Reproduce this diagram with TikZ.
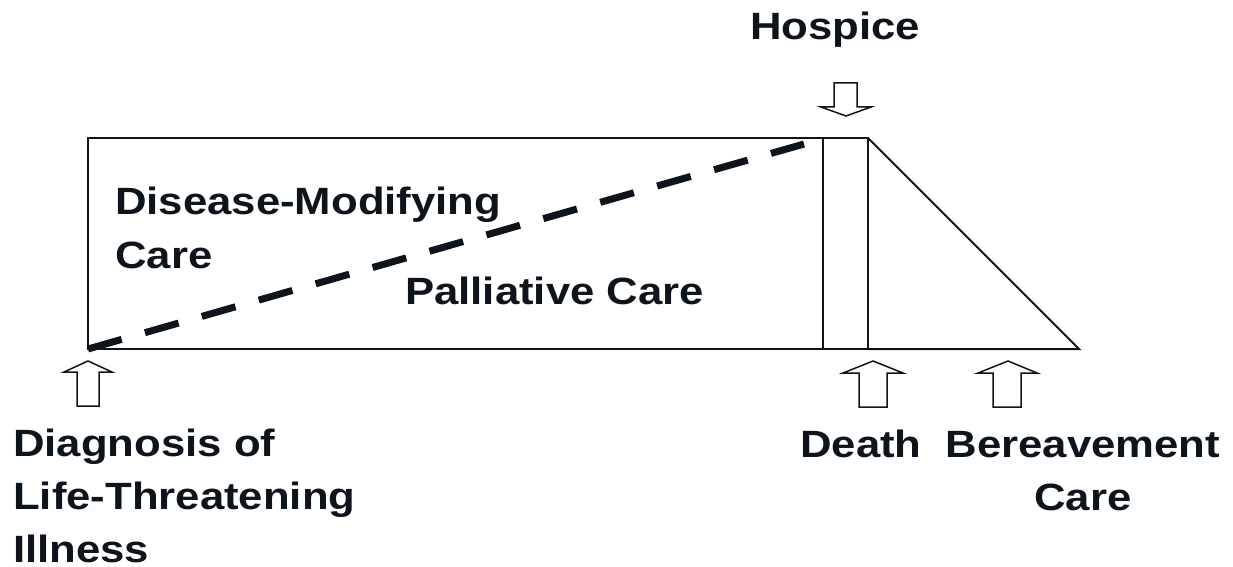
\documentclass[tikz,border=0pt]{standalone}
\usepackage{graphicx}
\usepackage{fontspec}
\setmainfont{Liberation Sans}
\definecolor{ink}{RGB}{14,20,28}
% labels are set a little wider than the plain face
\newcommand{\widetxt}[1]{\scalebox{1.15}[1]{#1}}
\tikzset{
  frame/.style={draw=ink, line width=2pt, line join=miter},
  blockarrow/.style={draw=ink, line width=1.5pt, fill=white, line join=miter},
  lbl/.style={font=\bfseries\fontsize{38}{53}\selectfont, text=ink, inner sep=0pt},
  divider/.style={draw=ink, line width=7pt, dash pattern=on 35pt off 24.2pt}
}
\begin{document}
\begin{tikzpicture}[x=1pt,y=-1pt]
\useasboundingbox (0,0) rectangle (1233,567);

% main care box, hospice column and bereavement wedge
\coordinate (tl) at (88,138);
\coordinate (br) at (823,349);
\coordinate (ctr) at (868,138);
\coordinate (cbr) at (868,349);
\coordinate (tri) at (1079,349);
\draw[frame] (tl) rectangle (br);
\draw[frame] (br |- tl) rectangle (cbr);
\draw[frame] (ctr) -- (tri) -- (cbr);

% boundary between disease-modifying and palliative care
\coordinate (dstart) at (88,349);
\coordinate (dend) at (804,144);
\draw[divider] (dstart) -- (dend);

% block arrows
\coordinate (diagtip) at (88,361);
\draw[blockarrow] (diagtip) -- (112,372) -- (99,372) -- (99,406) -- (77,406) -- (77,372) -- (64,372) -- cycle;
\coordinate (deathtip) at (873,361);
\draw[blockarrow] (deathtip) -- (903,373) -- (887,373) -- (887,407) -- (859,407) -- (859,373) -- (843,373) -- cycle;
\coordinate (beretip) at (1008,361);
\draw[blockarrow] (beretip) -- (1037,373) -- (1021,373) -- (1021,407) -- (993,407) -- (993,373) -- (978,373) -- cycle;
\coordinate (hosptip) at (846,116);
\draw[blockarrow] (hosptip) -- (871,107) -- (857,107) -- (857,83) -- (834,83) -- (834,107) -- (821,107) -- cycle;

% labels (multi-line nodes sit on the baseline of their last line)
\node[lbl, anchor=base west] (hospice) at (750,40) {\widetxt{Hospice}};
\node[lbl, anchor=base west, align=left] (dmc) at (115,268) {\widetxt{Disease-Modifying}\\[1pt]\widetxt{Care}};
\node[lbl, anchor=base west] (pal) at (405,304) {\widetxt{Palliative Care}};
\node[lbl, anchor=base west, align=left] (diag) at (13,562) {\widetxt{Diagnosis of}\\\widetxt{Life-Threatening}\\\widetxt{Illness}};
\node[lbl, anchor=base west] (death) at (800,457) {\widetxt{Death}};
\node[lbl, anchor=base, align=center] (bere) at (1083,510) {\widetxt{Bereavement}\\\widetxt{Care}};
\end{tikzpicture}
\end{document}
